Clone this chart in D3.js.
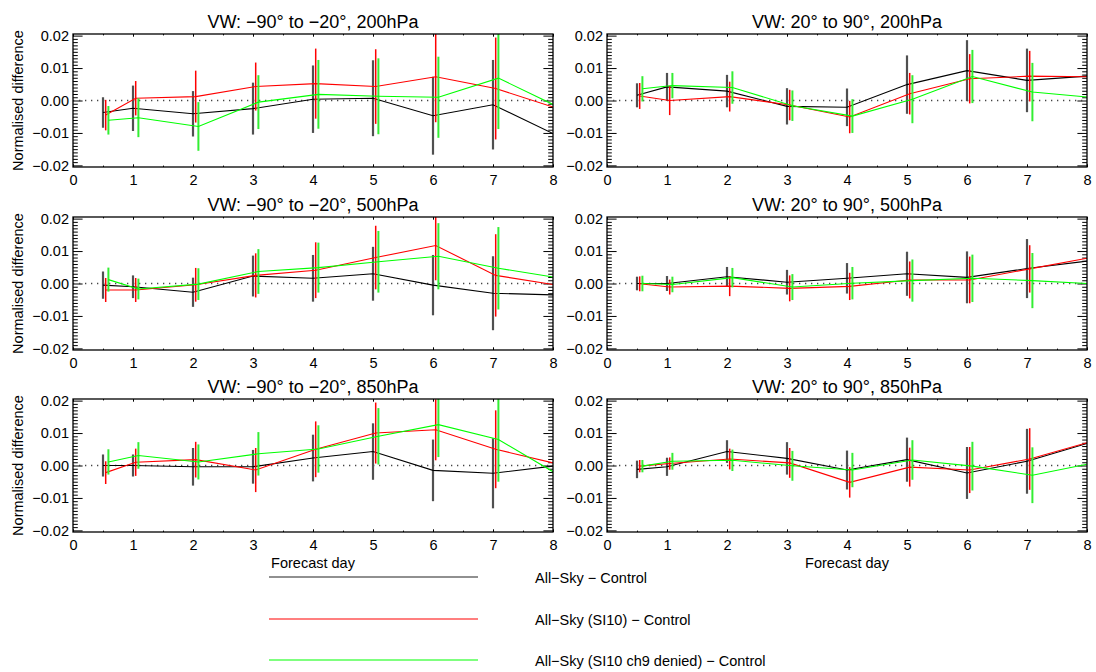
<!DOCTYPE html>
<html>
<head>
<meta charset="utf-8">
<script src="https://cdn.jsdelivr.net/npm/d3@7"></script>
<style>
	body { margin: 0; background: #fff; }
	svg { font-family: "Liberation Sans", Arial, sans-serif; }
	.tick text { font-size: 14.5px; fill: #000; }
	.title { font-size: 18px; }
	.label { font-size: 14.5px; }
</style>
</head>
<body>
<svg id="chart" width="1096" height="672"></svg>
<script>
// forecast days where the scores are given
const days = [0.5, 1, 2, 3, 4, 5, 6, 7, 8];

const titles = [
	"VW: \u221290\u00b0 to \u221220\u00b0, 200hPa", "VW: 20\u00b0 to 90\u00b0, 200hPa",
	"VW: \u221290\u00b0 to \u221220\u00b0, 500hPa", "VW: 20\u00b0 to 90\u00b0, 500hPa",
	"VW: \u221290\u00b0 to \u221220\u00b0, 850hPa", "VW: 20\u00b0 to 90\u00b0, 850hPa"
];

const seriesNames = [
	"All\u2212Sky \u2212 Control",
	"All\u2212Sky (SI10) \u2212 Control",
	"All\u2212Sky (SI10 ch9 denied) \u2212 Control"
];
const seriesColors = ["#000000", "#ff0000", "#00ff00"];

// mean normalised difference, one row per panel
const allSkyMean = [
	[-0.0037, -0.0024, -0.0041, -0.0025, 0.0004, 0.0007, -0.0047, -0.0013, -0.0102],
	[0.0016, 0.0042, 0.0029, -0.0018, -0.0021, 0.0049, 0.0092, 0.0062, 0.0075],
	[-0.0005, -0.0010, -0.0027, 0.0023, 0.0016, 0.0030, -0.0005, -0.0030, -0.0035],
	[0.0000, 0.0000, 0.0021, 0.0004, 0.0016, 0.0030, 0.0019, 0.0046, 0.0069],
	[0.0000, 0.0000, -0.0004, -0.0004, 0.0023, 0.0043, -0.0015, -0.0024, -0.0002],
	[-0.0012, -0.0004, 0.0043, 0.0022, -0.0014, 0.0018, -0.0023, 0.0013, 0.0068]
];
const si10Mean = [
	[-0.0045, 0.0007, 0.0012, 0.0043, 0.0052, 0.0043, 0.0073, 0.0037, -0.0020],
	[0.0014, 0.0000, 0.0012, -0.0014, -0.0051, 0.0021, 0.0067, 0.0075, 0.0073],
	[-0.0020, -0.0020, -0.0004, 0.0025, 0.0041, 0.0080, 0.0117, 0.0025, -0.0003],
	[-0.0001, -0.0011, -0.0008, -0.0015, -0.0009, 0.0011, 0.0011, 0.0045, 0.0078],
	[-0.0022, 0.0010, 0.0018, -0.0014, 0.0050, 0.0100, 0.0110, 0.0050, 0.0008],
	[-0.0002, 0.0006, 0.0020, 0.0008, -0.0052, -0.0005, -0.0014, 0.0020, 0.0070]
];
const ch9Mean = [
	[-0.0061, -0.0053, -0.0080, -0.0005, 0.0019, 0.0013, 0.0010, 0.0069, -0.0012],
	[0.0036, 0.0046, 0.0040, -0.0016, -0.0048, 0.0004, 0.0074, 0.0026, 0.0011],
	[0.0012, -0.0017, -0.0002, 0.0037, 0.0049, 0.0067, 0.0084, 0.0047, 0.0020],
	[0.0000, -0.0003, 0.0018, -0.0011, 0.0001, 0.0009, 0.0016, 0.0009, 0.0000],
	[0.0011, 0.0031, 0.0011, 0.0036, 0.0051, 0.0090, 0.0126, 0.0080, -0.0019],
	[-0.0002, 0.0013, 0.0016, -0.0001, -0.0014, 0.0017, -0.0002, -0.0030, 0.0004]
];

// half-length of the error bars (days 0.5 to 7)
const allSkyErr = [
	[0.0047, 0.0070, 0.0070, 0.0080, 0.0104, 0.0117, 0.0120, 0.0138],
	[0.0037, 0.0043, 0.0050, 0.0056, 0.0058, 0.0090, 0.0094, 0.0098],
	[0.0042, 0.0035, 0.0045, 0.0063, 0.0072, 0.0083, 0.0093, 0.0114],
	[0.0021, 0.0023, 0.0030, 0.0038, 0.0047, 0.0068, 0.0080, 0.0091],
	[0.0034, 0.0034, 0.0058, 0.0052, 0.0072, 0.0087, 0.0095, 0.0108],
	[0.0027, 0.0028, 0.0035, 0.0050, 0.0060, 0.0068, 0.0080, 0.0100]
];
const si10Err = [
	[0.0047, 0.0053, 0.0080, 0.0074, 0.0108, 0.0115, 0.0140, 0.0157],
	[0.0040, 0.0045, 0.0046, 0.0047, 0.0050, 0.0064, 0.0076, 0.0078],
	[0.0037, 0.0037, 0.0052, 0.0068, 0.0086, 0.0098, 0.0107, 0.0127],
	[0.0023, 0.0023, 0.0031, 0.0040, 0.0042, 0.0057, 0.0072, 0.0073],
	[0.0035, 0.0042, 0.0055, 0.0068, 0.0086, 0.0094, 0.0094, 0.0120],
	[0.0019, 0.0019, 0.0032, 0.0046, 0.0047, 0.0060, 0.0071, 0.0095]
];
const ch9Err = [
	[0.0044, 0.0060, 0.0075, 0.0083, 0.0106, 0.0117, 0.0125, 0.0157],
	[0.0039, 0.0039, 0.0050, 0.0047, 0.0052, 0.0074, 0.0082, 0.0090],
	[0.0037, 0.0032, 0.0049, 0.0069, 0.0077, 0.0095, 0.0102, 0.0127],
	[0.0024, 0.0024, 0.0030, 0.0040, 0.0050, 0.0065, 0.0073, 0.0085],
	[0.0039, 0.0041, 0.0054, 0.0067, 0.0073, 0.0087, 0.0100, 0.0130],
	[0.0019, 0.0026, 0.0033, 0.0046, 0.0053, 0.0061, 0.0075, 0.0086]
];

const xTicks = [0, 1, 2, 3, 4, 5, 6, 7, 8];
const yTicks = [-0.02, -0.01, 0, 0.01, 0.02];

const colLeft = [73, 607];
const rowTop = [34, 217, 399];
const width = 480;
const height = 133;
const offsets = [0, 0.045, 0.09];   // small shift so the error bars don't overlap
const barWidths = [2.2, 1.5, 2];
const barColors = ["#505050", "#ff0000", "#33ee33"];

const svg = d3.select("#chart");

const x = d3.scaleLinear().domain([0, 8]).range([0, width]);
const y = d3.scaleLinear().domain([-0.0205, 0.0205]).range([height, 0]);

const line = d3.line()
	.x(function (d) { return x(d[0]); })
	.y(function (d) { return y(d[1]); });

const minorX = d3.range(0.5, 8, 1);
const minorY = d3.range(-20, 21).map(function (d) { return d / 1000; }).filter(function (d) { return Math.round(d * 1000) % 10 !== 0; });

titles.forEach(function (title, p) {
	const col = p % 2, row = Math.floor(p / 2);
	const g = svg.append("g")
		.attr("transform", `translate(${colLeft[col]},${rowTop[row]})`);

	g.append("clipPath").attr("id", "clip" + p)
		.append("rect").attr("width", width).attr("height", height);

	g.append("text")
		.attr("class", "title")
		.attr("x", width / 2)
		.attr("y", -6)
		.attr("text-anchor", "middle")
		.text(title);

	// axes, ticks pointing inward like the original
	g.append("g")
		.attr("transform", `translate(0,${height})`)
		.call(d3.axisBottom(x).tickValues(xTicks).tickSize(-2.7).tickPadding(8).tickFormat(d3.format("d")));
	g.append("g")
		.attr("transform", `translate(0,${height})`)
		.call(d3.axisBottom(x).tickValues(minorX).tickSize(-1.4).tickFormat(""));
	g.append("g")
		.call(d3.axisTop(x).tickValues(xTicks).tickSize(-2.7).tickFormat(""));
	g.append("g")
		.call(d3.axisTop(x).tickValues(minorX).tickSize(-1.4).tickFormat(""));

	g.append("g")
		.call(d3.axisLeft(y).tickValues(yTicks).tickSize(-9.6).tickPadding(4).tickFormat(d3.format(".2f")));
	g.append("g")
		.call(d3.axisLeft(y).tickValues(minorY).tickSize(-4.8).tickFormat(""));
	g.append("g")
		.attr("transform", `translate(${width},0)`)
		.call(d3.axisRight(y).tickValues(yTicks).tickSize(-9.6).tickFormat(""));
	g.append("g")
		.attr("transform", `translate(${width},0)`)
		.call(d3.axisRight(y).tickValues(minorY).tickSize(-4.8).tickFormat(""));

	g.selectAll(".domain").remove();
	g.selectAll(".tick line").attr("stroke", "#000");

	g.append("line")
		.attr("x1", 0).attr("x2", width)
		.attr("y1", y(0)).attr("y2", y(0))
		.attr("stroke", "#444")
		.attr("stroke-width", 1.3)
		.attr("stroke-dasharray", "1.3,4.7");

	const plot = g.append("g").attr("clip-path", `url(#clip${p})`);
	const means = [allSkyMean[p], si10Mean[p], ch9Mean[p]];
	const errs = [allSkyErr[p], si10Err[p], ch9Err[p]];

	means.forEach(function (m, s) {
		const pts = days.map(function (d, i) { return [d + (i < 8 ? offsets[s] : 0), m[i]]; });

		plot.selectAll(".bar" + s)
			.data(errs[s])
			.enter().append("line")
			.attr("x1", function (e, i) { return x(pts[i][0]); })
			.attr("x2", function (e, i) { return x(pts[i][0]); })
			.attr("y1", function (e, i) { return y(m[i] - e); })
			.attr("y2", function (e, i) { return y(m[i] + e); })
			.attr("stroke", barColors[s])
			.attr("stroke-width", barWidths[s]);

		plot.append("path")
			.datum(pts)
			.attr("fill", "none")
			.attr("stroke", seriesColors[s])
			.attr("stroke-width", 1.1)
			.attr("d", line);
	});

	g.append("rect")
		.attr("width", width)
		.attr("height", height)
		.attr("fill", "none")
		.attr("stroke", "#000")
		.attr("stroke-width", 1.3);

	if (col === 0) {
		g.append("text")
			.attr("class", "label")
			.attr("transform", `translate(${23 - colLeft[0]},${height / 2}) rotate(-90)`)
			.attr("text-anchor", "middle")
			.text("Normalised difference");
	}
	if (row === 2) {
		g.append("text")
			.attr("class", "label")
			.attr("x", width / 2)
			.attr("y", height + 36)
			.attr("text-anchor", "middle")
			.text("Forecast day");
	}
});

// legend
const legendY = [577, 619, 660];
const legend = svg.append("g");
seriesNames.forEach(function (name, s) {
	legend.append("line")
		.attr("x1", 269).attr("x2", 478)
		.attr("y1", legendY[s]).attr("y2", legendY[s])
		.attr("stroke", s === 0 ? "#222" : seriesColors[s])
		.attr("stroke-width", 1.2);
	legend.append("text")
		.attr("class", "label")
		.attr("x", 535)
		.attr("y", legendY[s] + 6)
		.text(name);
});
</script>
</body>
</html>
